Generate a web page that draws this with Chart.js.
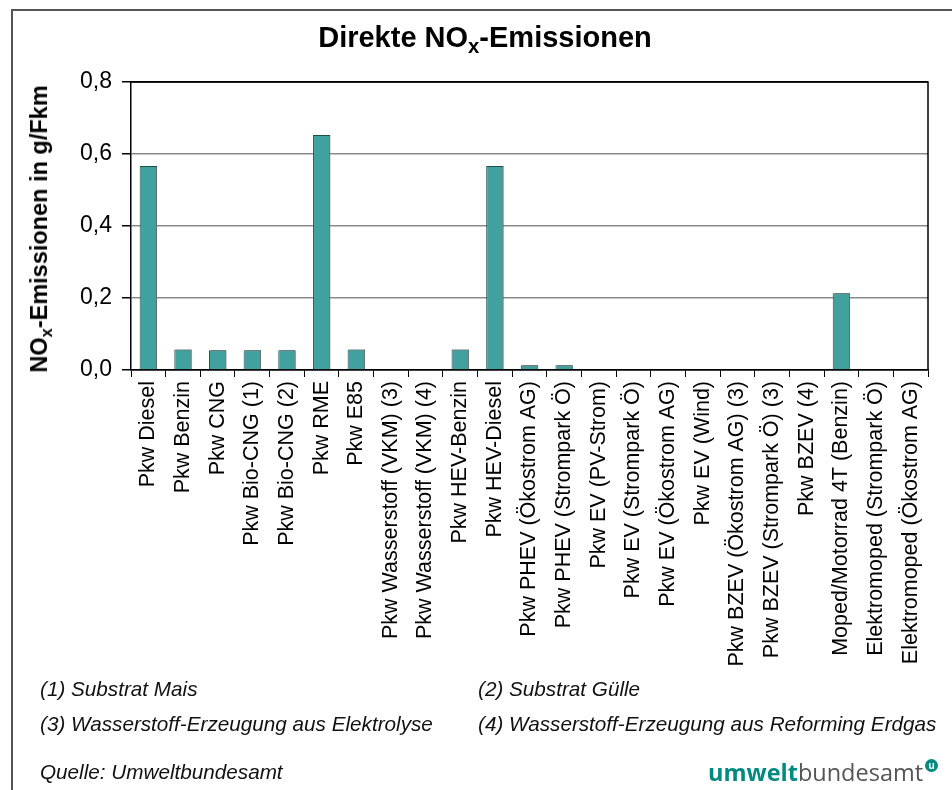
<!DOCTYPE html>
<html lang="de">
<head>
<meta charset="UTF-8">
<title>Direkte NOx-Emissionen</title>
<script src="https://cdn.jsdelivr.net/npm/chart.js@4"></script>
<style>
  body { margin: 0; background: #fff; font-family: "Liberation Sans", Arial, sans-serif; }
  #page { position: relative; width: 952px; height: 790px; overflow: hidden; }
  #frame { position: absolute; left: 11px; top: 9px; width: 960px; height: 800px;
           border-left: 2px solid #555; border-top: 2px solid #555; }
  #chartBox { position: absolute; left: 0; top: 0; width: 952px; height: 790px; }
  #title { position: absolute; left: 0; width: 970px; top: 21px; text-align: center;
           font-weight: bold; font-size: 29px; color: #000; }
  #ytitle { position: absolute; left: 41px; top: 229px; font-weight: bold; font-size: 23.5px;
            white-space: nowrap; transform: translate(-50%, -50%) rotate(-90deg); }
  sub { font-size: 0.7em; vertical-align: -0.3em; }
  .note { position: absolute; font-style: italic; font-size: 20.7px; color: #111; white-space: nowrap; }
  #logo { position: absolute; left: 708px; top: 756px; font-family: "Open Sans", sans-serif;
          font-size: 23.5px; color: #555; white-space: nowrap; }
  #logo b { color: #008a80; font-weight: 700; }
  #logo span.u { display: inline-block; width: 13px; height: 13px; border-radius: 50%;
                 background: #008a80; color: #fff; font-size: 10px; line-height: 13px; text-align: center;
                 font-weight: bold; vertical-align: 12px; margin-left: 2px; }
</style>
</head>
<body>
<div id="page">
  <div id="frame"></div>
  <div id="chartBox"><canvas id="noxChart"></canvas></div>
  <div id="title">Direkte NO<sub>x</sub>-Emissionen</div>
  <div id="ytitle">NO<sub>x</sub>-Emissionen in g/Fkm</div>
  <div id="notes"></div>
  <div id="logo"><b>umwelt</b>bundesamt<span class="u">u</span></div>
</div>

<script>
  var categories = [
    "Pkw Diesel", "Pkw Benzin", "Pkw CNG", "Pkw Bio-CNG (1)", "Pkw Bio-CNG (2)",
    "Pkw RME", "Pkw E85", "Pkw Wasserstoff (VKM) (3)", "Pkw Wasserstoff (VKM) (4)",
    "Pkw HEV-Benzin", "Pkw HEV-Diesel", "Pkw PHEV (Ökostrom AG)", "Pkw PHEV (Strompark Ö)",
    "Pkw EV (PV-Strom)", "Pkw EV (Strompark Ö)", "Pkw EV (Ökostrom AG)", "Pkw EV (Wind)",
    "Pkw BZEV (Ökostrom AG) (3)", "Pkw BZEV (Strompark Ö) (3)", "Pkw BZEV (4)",
    "Moped/Motorrad 4T (Benzin)", "Elektromoped (Strompark Ö)", "Elektromoped (Ökostrom AG)"
  ];
  var noxValues = [
    0.567, 0.057, 0.055, 0.055, 0.055,
    0.653, 0.057, 0, 0,
    0.057, 0.567, 0.013, 0.013,
    0, 0, 0, 0,
    0, 0, 0,
    0.213, 0, 0
  ];
  var yTicks = [0, 0.2, 0.4, 0.6, 0.8];

  var footnotes = [
    { text: "(1) Substrat Mais", x: 40, y: 677 },
    { text: "(2) Substrat Gülle", x: 478, y: 677 },
    { text: "(3) Wasserstoff-Erzeugung aus Elektrolyse", x: 40, y: 712 },
    { text: "(4) Wasserstoff-Erzeugung aus Reforming Erdgas", x: 478, y: 712 },
    { text: "Quelle: Umweltbundesamt", x: 40, y: 760 }
  ];

  footnotes.forEach(function (n) {
    var d = document.createElement("div");
    d.className = "note";
    d.textContent = n.text;
    d.style.left = n.x + "px";
    d.style.top = n.y + "px";
    document.getElementById("notes").appendChild(d);
  });

  // top + right border of the plot area, bars get a small grey shadow
  var plotFrame = {
    id: "plotFrame",
    beforeDatasetsDraw: function (chart) {
      var ctx = chart.ctx;
      ctx.save();
      ctx.shadowColor = "rgba(120,120,120,0.8)";
      ctx.shadowOffsetX = 2;
      ctx.shadowOffsetY = 0;
    },
    afterDatasetsDraw: function (chart) {
      chart.ctx.restore();
    },
    afterDraw: function (chart) {
      var a = chart.chartArea, ctx = chart.ctx;
      ctx.save();
      ctx.strokeStyle = "#000";
      ctx.lineWidth = 1.5;
      ctx.beginPath();
      ctx.moveTo(a.left, a.top);
      ctx.lineTo(a.right, a.top);
      ctx.lineTo(a.right, a.bottom);
      ctx.stroke();
      ctx.restore();
    }
  };

  var data = {
    labels: categories,
    datasets: [{
      data: noxValues,
      backgroundColor: "#41a19f",
      borderColor: "#1f4d4c",
      borderWidth: 1,
      barPercentage: 0.5,
      categoryPercentage: 1.0
    }]
  };

  var config = {
    type: "bar",
    data: data,
    plugins: [plotFrame],
    options: {
      responsive: true,
      maintainAspectRatio: false,
      animation: false,
      layout: { padding: { top: 82, left: 60, right: 24, bottom: 0 } },
      plugins: { legend: { display: false }, tooltip: { enabled: false } },
      scales: {
        x: {
          afterFit: function (s) { s.height = 420; },
          border: { color: "#000", width: 1.5 },
          grid: { drawOnChartArea: false, drawTicks: true, tickLength: 7, color: "#000", lineWidth: 1 },
          ticks: {
            autoSkip: false, minRotation: 90, maxRotation: 90, padding: 4,
            color: "#000", font: { family: "Liberation Sans", size: 21.5 }
          }
        },
        y: {
          min: 0, max: 0.8,
          afterFit: function (s) { s.width = 71; },
          afterBuildTicks: function (s) { s.ticks = yTicks.map(function (v) { return { value: v }; }); },
          border: { color: "#000", width: 1.5 },
          grid: {
            tickLength: 9,
            color: function (c) { return (c.tick && (c.tick.value === 0 || c.tick.value === 0.8)) ? "#000" : "#8a8a8a"; },
            lineWidth: 1.5,
            tickColor: "#000"
          },
          ticks: {
            padding: 10, color: "#000", font: { family: "Liberation Sans", size: 23 },
            callback: function (v) { return v.toFixed(1).replace(".", ","); }
          }
        }
      }
    }
  };

  new Chart(document.getElementById("noxChart"), config);
</script>
</body>
</html>
